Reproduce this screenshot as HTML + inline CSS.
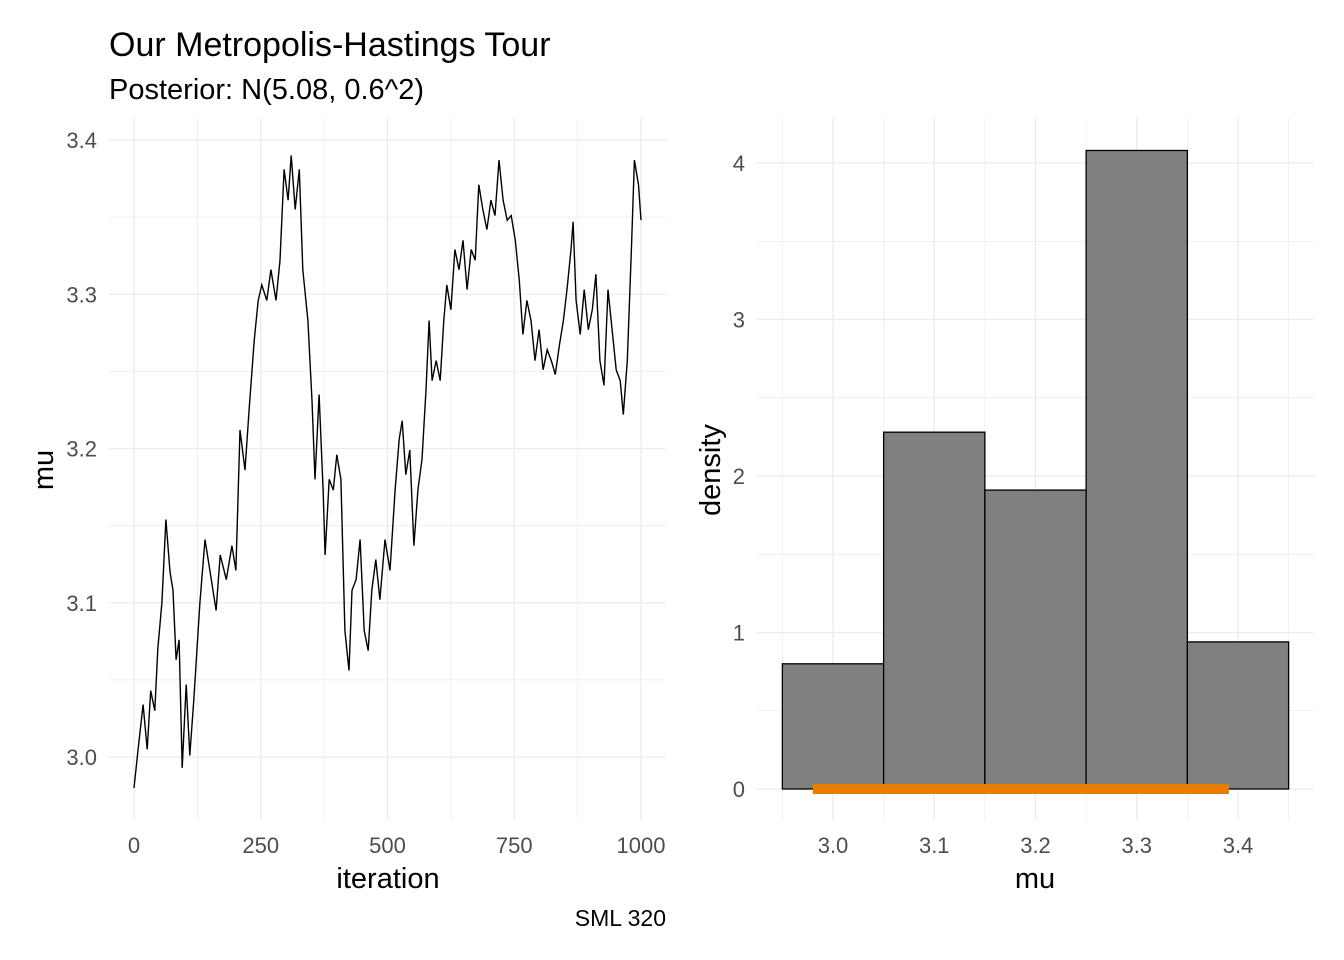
<!DOCTYPE html>
<html><head><meta charset="utf-8"><style>
body{margin:0;background:#fff;}
svg{display:block;font-family:"Liberation Sans",Arial,sans-serif;}
.tick{fill:#4d4d4d;font-size:22px;}
.ttl{fill:#000;font-size:29px;}
</style></head><body>
<svg id="c" width="1344" height="960">
<text x="109" y="56" font-size="34">Our Metropolis-Hastings Tour</text>
<text x="109" y="99" font-size="29">Posterior: N(5.08, 0.6^2)</text>
<text x="666" y="926" font-size="23" text-anchor="end">SML 320</text>
<g id="L"></g>
<g id="R"></g>
</svg>
<script>
const traceIter=[0,8,18,26,33,41,47,55,63,71,77,83,89,95,103,110,118,130,140,150,162,170,182,193,201,209,219,227,237,245,252,262,270,280,288,296,304,310,318,326,333,343,351,357,365,373,377,385,393,400,408,416,424,430,438,446,454,462,469,477,485,495,505,515,523,529,536,544,552,560,568,576,582,588,596,604,611,617,625,633,641,649,657,665,673,680,688,696,704,712,720,728,736,744,752,760,767,775,783,791,799,807,815,823,831,839,847,854,862,866,872,880,888,896,904,911,919,927,935,943,951,959,965,973,981,987,995,1000];
const traceMu=[2.98,3.005,3.034,3.005,3.043,3.03,3.07,3.10,3.154,3.12,3.108,3.063,3.076,2.993,3.047,3.001,3.037,3.10,3.141,3.12,3.095,3.131,3.115,3.137,3.121,3.212,3.186,3.225,3.27,3.296,3.306,3.296,3.316,3.296,3.322,3.381,3.361,3.39,3.355,3.381,3.316,3.283,3.231,3.18,3.235,3.173,3.131,3.18,3.173,3.196,3.18,3.082,3.056,3.108,3.115,3.141,3.082,3.069,3.108,3.128,3.102,3.141,3.121,3.173,3.206,3.218,3.183,3.199,3.137,3.173,3.193,3.238,3.283,3.244,3.257,3.244,3.283,3.306,3.29,3.329,3.316,3.335,3.303,3.329,3.322,3.371,3.355,3.342,3.361,3.351,3.387,3.361,3.348,3.351,3.335,3.309,3.274,3.296,3.283,3.257,3.277,3.251,3.264,3.257,3.248,3.267,3.283,3.303,3.329,3.347,3.296,3.274,3.303,3.277,3.29,3.313,3.257,3.241,3.303,3.277,3.251,3.244,3.222,3.257,3.329,3.387,3.371,3.348];
const xTicks=[0,250,500,750,1000];
const yTicksL=[3.0,3.1,3.2,3.3,3.4];
const binEdges=[2.95,3.05,3.15,3.25,3.35,3.45];
const binDensity=[0.80,2.28,1.91,4.08,0.94];
const xTicksR=[3.0,3.1,3.2,3.3,3.4];
const yTicksR=[0,1,2,3,4];
const interval=[2.98,3.391];

const NS="http://www.w3.org/2000/svg";
function mk(p,t,a){const e=document.createElementNS(NS,t);for(const k in a)e.setAttribute(k,a[k]);p.appendChild(e);return e;}
const xL=v=>134+v*0.507, yL=v=>757-(v-3.0)*1542.5;
const xR=v=>833+(v-3.0)*1012.5, yR=v=>789-v*156.5;
const L=document.getElementById('L'), R=document.getElementById('R');
const T=118,B=820;
for(let i=0;i<xTicks.length;i++){const v=xTicks[i];
 let g=mk(L,'line',{x1:xL(v),x2:xL(v),y1:T,y2:B,stroke:'#ebebeb','stroke-width':1.3});
 
 if(i<xTicks.length-1){let m=mk(L,'line',{x1:xL(v+125),x2:xL(v+125),y1:T,y2:B,stroke:'#ebebeb','stroke-width':0.7});
 }
 let t=mk(L,'text',{x:xL(v),y:853,'text-anchor':'middle',class:'tick'});t.textContent=v;
 }
for(let i=0;i<yTicksL.length;i++){const v=yTicksL[i];
 let g=mk(L,'line',{x1:109,x2:666,y1:yL(v),y2:yL(v),stroke:'#ebebeb','stroke-width':1.3});
 
 if(i<yTicksL.length-1){let m=mk(L,'line',{x1:109,x2:666,y1:yL(v+0.05),y2:yL(v+0.05),stroke:'#ebebeb','stroke-width':0.7});
 }
 let t=mk(L,'text',{x:97,y:yL(v)+8,'text-anchor':'end',class:'tick'});t.textContent=v.toFixed(1);
 }
let d='';for(let i=0;i<traceIter.length;i++)d+=(i?'L':'M')+xL(traceIter[i]).toFixed(1)+','+yL(traceMu[i]).toFixed(1);
let p=mk(L,'path',{d:d,fill:'none',stroke:'#000','stroke-width':1.4});

let a=mk(L,'text',{x:388,y:888,'text-anchor':'middle',class:'ttl'});a.textContent='iteration';

a=mk(L,'text',{x:53,y:470,'text-anchor':'middle',class:'ttl',transform:'rotate(-90 53 470)'});a.textContent='mu';

for(let i=0;i<xTicksR.length;i++){const v=xTicksR[i];
 let g=mk(R,'line',{x1:xR(v),x2:xR(v),y1:T,y2:B,stroke:'#ebebeb','stroke-width':1.3});
 
 let t=mk(R,'text',{x:xR(v),y:853,'text-anchor':'middle',class:'tick'});t.textContent=v.toFixed(1);
 }
[2.95,3.05,3.15,3.25,3.35,3.45].forEach(v=>{let m=mk(R,'line',{x1:xR(v),x2:xR(v),y1:T,y2:B,stroke:'#ebebeb','stroke-width':0.7});
 });
for(let i=0;i<yTicksR.length;i++){const v=yTicksR[i];
 let g=mk(R,'line',{x1:757,x2:1314,y1:yR(v),y2:yR(v),stroke:'#ebebeb','stroke-width':1.3});
 
 if(i<yTicksR.length-1){let m=mk(R,'line',{x1:757,x2:1314,y1:yR(v+0.5),y2:yR(v+0.5),stroke:'#ebebeb','stroke-width':0.7});
 }
 let t=mk(R,'text',{x:745,y:yR(v)+8,'text-anchor':'end',class:'tick'});t.textContent=v;
 }
for(let i=0;i<binDensity.length;i++){
 let r=mk(R,'rect',{x:xR(binEdges[i]),y:yR(binDensity[i]),width:xR(binEdges[i+1])-xR(binEdges[i]),height:yR(0)-yR(binDensity[i]),fill:'#808080',stroke:'#000','stroke-width':1.3});
 }
let s=mk(R,'line',{x1:xR(interval[0]),x2:xR(interval[1]),y1:yR(0),y2:yR(0),stroke:'#e87d00','stroke-width':10});

a=mk(R,'text',{x:1035,y:888,'text-anchor':'middle',class:'ttl'});a.textContent='mu';

a=mk(R,'text',{x:720,y:470,'text-anchor':'middle',class:'ttl',transform:'rotate(-90 720 470)'});a.textContent='density';

</script>
</body></html>
